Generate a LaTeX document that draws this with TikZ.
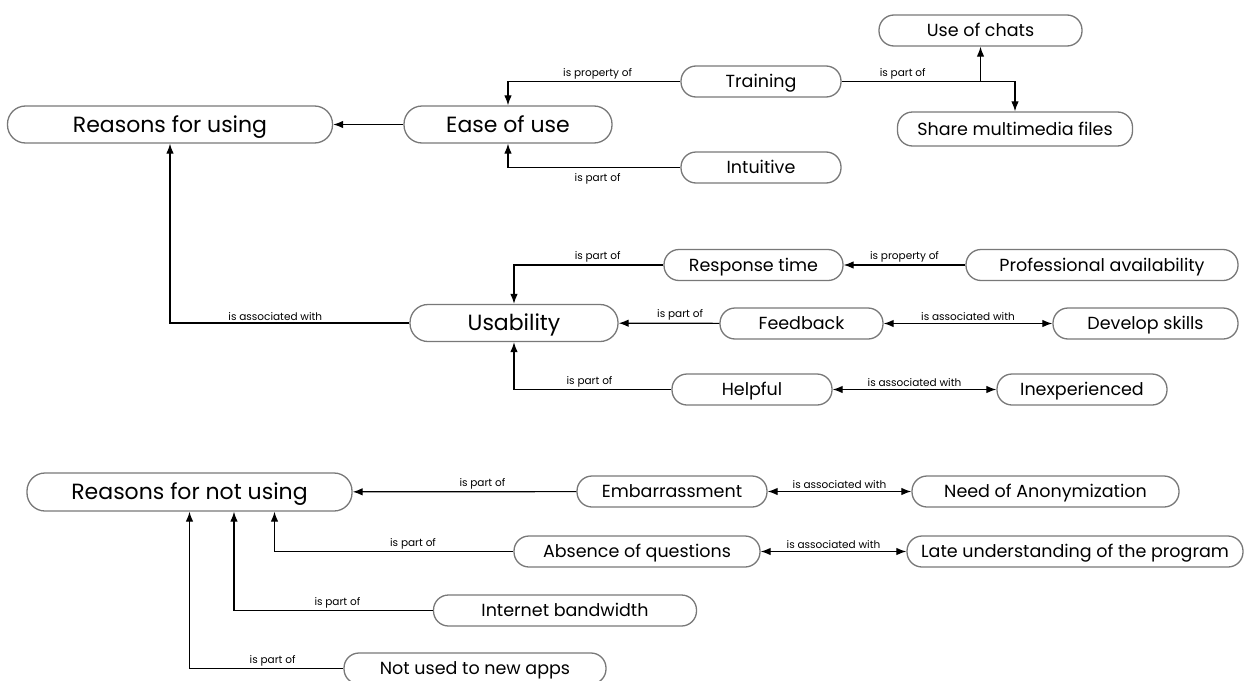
\documentclass[tikz,border=0pt]{standalone}
\usepackage{fontspec}
\setmainfont{Poppins}
\usetikzlibrary{arrows.meta, positioning, calc}
\definecolor{boxgray}{RGB}{120, 120, 120}

\begin{document}
\begin{tikzpicture}[
    x=1pt, y=-1pt,
    >={Latex[length=10pt, width=7.5pt]},
    concept/.style={rectangle, draw=boxgray, line width=1.3pt, rounded corners=15pt, minimum height=31pt, inner sep=0pt, text height=12pt, text depth=0pt, font=\fontsize{17.5}{19}\selectfont},
    topic/.style={concept, rounded corners=18pt, minimum height=37pt, text height=15pt, font=\fontsize{22}{24}\selectfont},
    rel/.style={font=\fontsize{10.5}{12}\selectfont, inner sep=2pt},
    arrow/.style={->, line width=1.2pt},
    both/.style={<->, line width=1.2pt}
]
\useasboundingbox (0,0) rectangle (1244,680);

% === Reasons for using ===
\node[topic, minimum width=325pt] (reasons) at (170,124.5) {Reasons for using};
\node[topic, minimum width=208pt] (ease) at (508,124.5) {Ease of use};
\node[concept, minimum width=160pt] (training) at (761,81.5) {Training};
\node[concept, minimum width=203pt] (chats) at (980.5,30.5) {Use of chats};
\node[concept, minimum width=235pt, minimum height=34pt] (share) at (1015,129) {Share multimedia files};
\node[concept, minimum width=160pt] (intuitive) at (761,167.5) {Intuitive};

\draw[arrow] (ease) -- (reasons);
\draw[arrow] (training.west) -| node[rel, above, pos=0.24] {is property of} (ease.north);
\draw[arrow] (intuitive.west) -| node[rel, below=3pt, pos=0.24] {is part of} (ease.south);
\draw[arrow] (training.east) -| node[rel, above, pos=0.22] {is part of} (chats.south);
\draw[arrow] (training.east) -| (share.north);

% === Usability ===
\node[topic, minimum width=208pt] (usability) at (514,323) {Usability};
\node[concept, minimum width=179pt] (response) at (753.5,265) {Response time};
\node[concept, minimum width=272pt] (profav) at (1102,265) {Professional availability};
\node[concept, minimum width=163pt] (feedback) at (801.5,323.5) {Feedback};
\node[concept, minimum width=185pt] (skills) at (1145.5,323.5) {Develop skills};
\node[concept, minimum width=160pt] (helpful) at (752,389.5) {Helpful};
\node[concept, minimum width=170pt] (inexp) at (1082,389.5) {Inexperienced};

\draw[arrow] (usability.west) -| node[rel, above, pos=0.28] {is associated with} (reasons.south);
\draw[arrow] (response.west) -| node[rel, above, pos=0.22] {is part of} (usability.north);
\draw[arrow] (profav) -- node[rel, above] {is property of} (response);
\draw[arrow] (feedback) -- node[rel, above, pos=0.39] {is part of} (usability);
\draw[both] (feedback) -- node[rel, above] {is associated with} (skills);
\draw[arrow] (helpful.west) -| node[rel, above, pos=0.26] {is part of} (usability.south);
\draw[both] (helpful) -- node[rel, above] {is associated with} (inexp);

% === Reasons for not using ===
\node[topic, minimum width=325pt, minimum height=38pt] (notusing) at (189.5,492) {Reasons for not using};
\node[concept, minimum width=190pt] (embarr) at (672,491.5) {Embarrassment};
\node[concept, minimum width=267pt] (anonym) at (1045.5,491.5) {Need of Anonymization};
\node[concept, minimum width=246pt] (absence) at (637,551.5) {Absence of questions};
\node[concept, minimum width=336pt] (late) at (1075,551.5) {Late understanding of the program};
\node[concept, minimum width=263pt] (bandwidth) at (565,610.5) {Internet bandwidth};
\node[concept, minimum width=262pt] (newapps) at (475,668.5) {Not used to new apps};

\draw[arrow] (embarr) -- node[rel, above, pos=0.42] {is part of} (notusing);
\draw[both] (embarr) -- node[rel, above] {is associated with} (anonym);
\draw[arrow] (absence.west) -| node[rel, above, pos=0.21] {is part of} ($(notusing.south)+(85,0)$);
\draw[both] (absence) -- node[rel, above] {is associated with} (late);
\draw[arrow] (bandwidth.west) -| node[rel, above, pos=0.24] {is part of} ($(notusing.south)+(44.5,0)$);
\draw[arrow] (newapps.west) -| node[rel, above, pos=0.23] {is part of} (notusing.south);

\end{tikzpicture}
\end{document}
